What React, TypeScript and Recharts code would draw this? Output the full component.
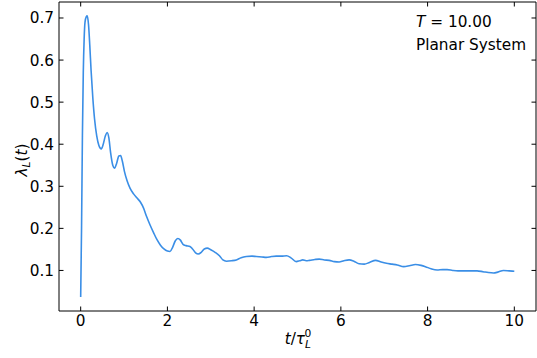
import React from "react";
import { LineChart, Line, XAxis, YAxis } from "recharts";

const tValues = [
  0, 0.02, 0.04, 0.06, 0.08, 0.1, 0.13, 0.15, 0.18, 0.21, 0.24, 0.28, 0.32, 0.37, 0.42, 0.475, 0.52, 0.57, 0.61,
  0.65, 0.69, 0.74, 0.78, 0.83, 0.88, 0.92, 0.96, 1.01, 1.07, 1.14, 1.22, 1.3, 1.38, 1.45, 1.52, 1.6, 1.68, 1.76,
  1.84, 1.92, 2.0, 2.06, 2.12, 2.18, 2.24, 2.3, 2.36, 2.43, 2.52, 2.58, 2.65, 2.71, 2.78, 2.85, 2.92, 3.0, 3.1,
  3.2, 3.28, 3.36, 3.48, 3.59, 3.7, 3.82, 3.95, 4.05, 4.18, 4.28, 4.4, 4.51, 4.63, 4.75, 4.85, 4.97, 5.05, 5.12,
  5.2, 5.28, 5.4, 5.5, 5.62, 5.73, 5.85, 5.96, 6.07, 6.19, 6.3, 6.42, 6.54, 6.66, 6.8, 6.93, 7.05, 7.18, 7.3,
  7.45, 7.58, 7.72, 7.85, 7.95, 8.08, 8.22, 8.35, 8.45, 8.58, 8.7, 8.85, 9.0, 9.14, 9.28, 9.4, 9.52, 9.62, 9.75,
  9.88, 10.0,
];

const lambdaValues = [
  0.037, 0.2, 0.42, 0.57, 0.65, 0.69, 0.703, 0.705, 0.685, 0.635, 0.575, 0.51, 0.46, 0.42, 0.397, 0.389, 0.4,
  0.42, 0.428, 0.415, 0.38, 0.35, 0.343, 0.355, 0.372, 0.373, 0.36, 0.335, 0.313, 0.295, 0.282, 0.272, 0.262,
  0.248, 0.228, 0.208, 0.19, 0.173, 0.16, 0.151, 0.146, 0.145, 0.155, 0.17, 0.176, 0.172, 0.162, 0.159, 0.157,
  0.151, 0.142, 0.139, 0.143, 0.151, 0.153, 0.149, 0.143, 0.135, 0.125, 0.122, 0.123, 0.125, 0.13, 0.133, 0.134,
  0.133, 0.132, 0.131, 0.133, 0.134, 0.134, 0.135, 0.13, 0.121, 0.123, 0.125, 0.123, 0.124, 0.126, 0.127, 0.125,
  0.124, 0.121, 0.12, 0.123, 0.125, 0.122, 0.116, 0.115, 0.119, 0.124, 0.12, 0.117, 0.115, 0.113, 0.109, 0.111,
  0.114, 0.112, 0.109, 0.104, 0.101, 0.102, 0.102, 0.1, 0.099, 0.099, 0.099, 0.099, 0.097, 0.095, 0.094, 0.096,
  0.1, 0.099, 0.098,
];

const xTicks = [0, 2, 4, 6, 8, 10];
const yTicks = [0.1, 0.2, 0.3, 0.4, 0.5, 0.6, 0.7];
const xDomain: [number, number] = [-0.5, 10.5];
const yDomain: [number, number] = [0.0036, 0.738];
const annotationLines = ["10.00", "Planar System"];

const data = tValues.map((t, i) => ({ t, v: lambdaValues[i] }));

const FONT = "'DejaVu Sans', sans-serif";
const FS = 15.3;
const TICK_LEN = 4.5;
const AXIS_COLOR = "#000";

const LeftTick = (props: any) => {
  const { x, y, payload } = props;
  return (
    <g>
      <line x1={x} y1={y} x2={x + TICK_LEN} y2={y} stroke={AXIS_COLOR} strokeWidth={1} />
      <text x={x - 5} y={y} dy="0.36em" textAnchor="end" fontSize={FS} fontFamily={FONT} fill="#000">
        {payload.value.toFixed(1)}
      </text>
    </g>
  );
};

const BottomTick = (props: any) => {
  const { x, y, payload } = props;
  return (
    <g>
      <line x1={x} y1={y} x2={x} y2={y - TICK_LEN} stroke={AXIS_COLOR} strokeWidth={1} />
      <text x={x} y={y + 15} textAnchor="middle" fontSize={FS} fontFamily={FONT} fill="#000">
        {String(payload.value)}
      </text>
    </g>
  );
};

const TopTick = (props: any) => {
  const { x, y } = props;
  return <line x1={x} y1={y} x2={x} y2={y + TICK_LEN} stroke={AXIS_COLOR} strokeWidth={1} />;
};

const RightTick = (props: any) => {
  const { x, y } = props;
  return <line x1={x} y1={y} x2={x - TICK_LEN} y2={y} stroke={AXIS_COLOR} strokeWidth={1} />;
};

export default function App() {
  return (
    <div style={{ position: "absolute", left: 0, top: 0, width: 537, height: 358, background: "#fff" }}>
      <LineChart width={537} height={358} data={data} margin={{ top: 1, right: 0, bottom: 0, left: 0 }}>
        <XAxis
          dataKey="t"
          type="number"
          domain={xDomain}
          ticks={xTicks}
          allowDataOverflow
          height={47}
          tickSize={0}
          tickMargin={0}
          tickLine={false}
          axisLine={{ stroke: AXIS_COLOR, strokeWidth: 1 }}
          tick={<BottomTick />}
        />
        <XAxis
          xAxisId="top"
          orientation="top"
          dataKey="t"
          type="number"
          domain={xDomain}
          ticks={xTicks}
          allowDataOverflow
          height={1}
          tickSize={0}
          tickMargin={0}
          tickLine={false}
          axisLine={{ stroke: AXIS_COLOR, strokeWidth: 1 }}
          tick={<TopTick />}
        />
        <YAxis
          type="number"
          domain={yDomain}
          ticks={yTicks}
          allowDataOverflow
          width={59}
          tickSize={0}
          tickMargin={0}
          tickLine={false}
          axisLine={{ stroke: AXIS_COLOR, strokeWidth: 1 }}
          tick={<LeftTick />}
        />
        <YAxis
          yAxisId="right"
          orientation="right"
          type="number"
          domain={yDomain}
          ticks={yTicks}
          allowDataOverflow
          width={1}
          tickSize={0}
          tickMargin={0}
          tickLine={false}
          axisLine={{ stroke: AXIS_COLOR, strokeWidth: 1 }}
          tick={<RightTick />}
        />
        <Line
          type="monotone"
          dataKey="v"
          stroke="#3a8ee6"
          strokeWidth={1.6}
          dot={false}
          isAnimationActive={false}
        />
        <Line
          xAxisId="top"
          yAxisId="right"
          type="monotone"
          dataKey="v"
          stroke="none"
          strokeWidth={0}
          dot={false}
          activeDot={false}
          legendType="none"
          isAnimationActive={false}
        />
      </LineChart>
      <svg
        width={537}
        height={358}
        style={{ position: "absolute", left: 0, top: 0, pointerEvents: "none" }}
      >
        <text x={298} y={344} textAnchor="middle" fontSize={FS} fontFamily={FONT} fill="#000">
          <tspan fontStyle="italic">t</tspan>
          <tspan>/</tspan>
          <tspan fontStyle="italic">τ</tspan>
          <tspan fontStyle="italic" fontSize={10.7} dy={4}>L</tspan>
          <tspan fontSize={10.7} dx={-6.5} dy={-11}>0</tspan>
        </text>
        <text
          transform="translate(27,160) rotate(-90)"
          textAnchor="middle"
          fontSize={FS}
          fontFamily={FONT}
          fill="#000"
        >
          <tspan fontStyle="italic">λ</tspan>
          <tspan fontStyle="italic" fontSize={10.7} dy={3}>L</tspan>
          <tspan dy={-3}>(</tspan>
          <tspan fontStyle="italic">t</tspan>
          <tspan>)</tspan>
        </text>
        <text x={416} y={27} fontSize={FS} fontFamily={FONT} fill="#000">
          <tspan fontStyle="italic">T</tspan>
          <tspan> = {annotationLines[0]}</tspan>
        </text>
        <text x={416} y={50} fontSize={FS} fontFamily={FONT} fill="#000">
          {annotationLines[1]}
        </text>
      </svg>
    </div>
  );
}
